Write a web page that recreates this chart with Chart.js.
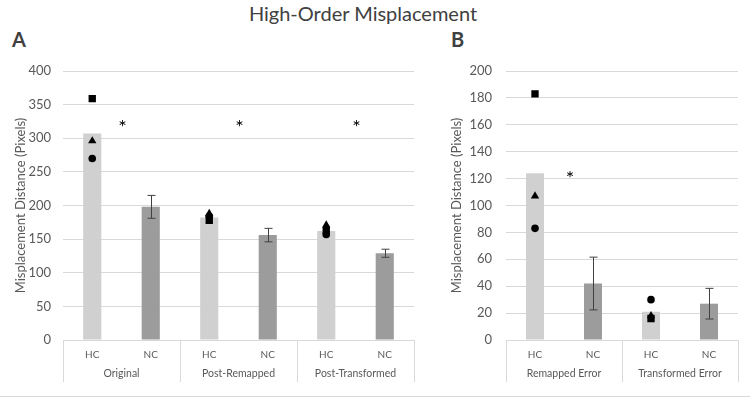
<!DOCTYPE html>
<html>
<head>
<meta charset="utf-8">
<script src="https://cdn.jsdelivr.net/npm/chart.js@4"></script>
<style>
  body { margin: 0; background: #fff; }
  #wrap { position: relative; width: 750px; height: 399px; overflow: hidden; font-family: Lato, 'Open Sans', sans-serif; }
  .titulo { position: absolute; top: 1px; left: 0; width: 726px; text-align: center; font-size: 20px; color: #404040; }
  .letra { position: absolute; font-weight: bold; font-size: 20px; color: #404040; }
  .caja { position: absolute; top: 0; height: 399px; }
  .linea-inferior { position: absolute; left: 0; width: 750px; top: 396px; height: 1px; background: #d9d9d9; }
</style>
</head>
<body>
<div id="wrap">
  <div class="titulo">High-Order Misplacement</div>
  <div class="letra" style="left:12px; top:27px;">A</div>
  <div class="letra" style="left:451px; top:27px;">B</div>
  <div class="caja" style="left:0; width:430px;"><canvas id="chartA" width="430" height="399"></canvas></div>
  <div class="caja" style="left:440px; width:310px;"><canvas id="chartB" width="310" height="399"></canvas></div>
  <div class="linea-inferior"></div>
</div>
<script>
// Datos panel A
const categoriasA = ['HC', 'NC', 'HC', 'NC', 'HC', 'NC'];
const gruposA = ['Original', 'Post-Remapped', 'Post-Transformed'];
const mediasA = [307, 198, 182, 156, 162, 129];
const erroresA = [null, 17, null, 10, null, 6];
const cuadradosA = [359, null, 178, null, 163, null];
const triangulosA = [296, null, 188, null, 171, null];
const circulosA = [270, null, 184, null, 157, null];
const asteriscosA = [323, 323, 323];
const ejeA = { max: 400, step: 50 };

// Datos panel B
const categoriasB = ['HC', 'NC', 'HC', 'NC'];
const gruposB = ['Remapped Error', 'Transformed Error'];
const mediasB = [124, 42, 21, 27];
const erroresB = [null, 19.6, null, 11.4];
const cuadradosB = [183, null, 16, null];
const triangulosB = [107, null, 18, null];
const circulosB = [83, null, 30, null];
const asteriscosB = [124, null];
const ejeB = { max: 200, step: 20 };

const colorHC = '#d0d0d0';
const colorNC = '#9c9c9c';
const colorTexto = '#595959';
const colorGrid = '#d9d9d9';
const fuente = "Lato, 'Open Sans', sans-serif";

// Plugin para barras de error, asteriscos y etiquetas de grupo
const extrasPlugin = {
    id: 'extras',
    afterDatasetsDraw(chart, args, opts) {
        const { ctx, scales: { x, y } } = chart;
        ctx.save();
        ctx.strokeStyle = '#404040';
        ctx.lineWidth = 1;
        opts.errores.forEach((e, i) => {
            if (e == null) return;
            const px = Math.round(x.getPixelForValue(i)) + 0.5;
            const top = y.getPixelForValue(opts.medias[i] + e);
            const bot = y.getPixelForValue(opts.medias[i] - e);
            ctx.beginPath();
            ctx.moveTo(px, top); ctx.lineTo(px, bot);
            ctx.moveTo(px - 4, top); ctx.lineTo(px + 4, top);
            ctx.moveTo(px - 4, bot); ctx.lineTo(px + 4, bot);
            ctx.stroke();
        });
        ctx.fillStyle = '#000';
        ctx.font = '20px ' + fuente;
        ctx.textAlign = 'center';
        ctx.textBaseline = 'middle';
        opts.asteriscos.forEach((v, g) => {
            if (v == null) return;
            const cx = (x.getPixelForValue(2 * g) + x.getPixelForValue(2 * g + 1)) / 2 + opts.desplAsterisco;
            ctx.fillText('*', cx, y.getPixelForValue(v) + 5);
        });
        ctx.restore();
    },
    afterDraw(chart, args, opts) {
        const { ctx, chartArea, scales: { x } } = chart;
        const n = opts.grupos.length;
        const bordes = [chartArea.left];
        for (let g = 1; g < n; g++) {
            bordes.push((x.getPixelForValue(2 * g - 1) + x.getPixelForValue(2 * g)) / 2);
        }
        bordes.push(chartArea.right);
        ctx.save();
        ctx.strokeStyle = colorGrid;
        ctx.lineWidth = 1;
        ctx.beginPath();
        bordes.forEach(bx => {
            const px = Math.round(bx) + 0.5;
            ctx.moveTo(px, chartArea.bottom);
            ctx.lineTo(px, chartArea.bottom + 42);
        });
        ctx.stroke();
        ctx.fillStyle = colorTexto;
        ctx.font = '10.5px ' + fuente;
        ctx.textAlign = 'center';
        ctx.textBaseline = 'middle';
        opts.grupos.forEach((nombre, g) => {
            ctx.fillText(nombre, (bordes[g] + bordes[g + 1]) / 2, chartArea.bottom + 34);
        });
        ctx.restore();
    }
};

function crearPanel(canvas, cfg) {
    const marcador = (datos, estilo, radio) => ({
        type: 'line',
        data: datos,
        showLine: false,
        pointStyle: estilo,
        pointRadius: radio,
        pointBackgroundColor: '#000',
        pointBorderColor: '#000',
        pointBorderWidth: 0
    });

    new Chart(canvas, {
        type: 'bar',
        data: {
            labels: cfg.categorias,
            datasets: [
                marcador(cfg.cuadrados, 'rect', 5.2),
                marcador(cfg.triangulos, 'triangle', 4.8),
                marcador(cfg.circulos, 'circle', 3.8),
                {
                    data: cfg.medias,
                    backgroundColor: cfg.categorias.map(c => c === 'HC' ? colorHC : colorNC),
                    borderWidth: 0,
                    categoryPercentage: 1,
                    barPercentage: 0.31
                }
            ]
        },
        options: {
            responsive: false,
            animation: false,
            layout: { padding: { top: 71, right: cfg.derecha, bottom: 0, left: 0 } },
            plugins: {
                legend: { display: false },
                tooltip: { enabled: false },
                extras: {
                    errores: cfg.errores,
                    medias: cfg.medias,
                    asteriscos: cfg.asteriscos,
                    grupos: cfg.grupos,
                    desplAsterisco: cfg.desplAsterisco
                }
            },
            scales: {
                x: {
                    grid: { display: false, drawTicks: false },
                    border: { color: colorGrid },
                    ticks: { color: colorTexto, font: { family: fuente, size: 10 }, padding: 9 },
                    afterFit: s => { s.height = 59; }
                },
                y: {
                    min: 0,
                    max: cfg.eje.max,
                    grid: { color: colorGrid, drawTicks: false },
                    border: { display: false },
                    ticks: { stepSize: cfg.eje.step, color: colorTexto, font: { family: fuente, size: 13 }, padding: cfg.padTicks },
                    title: {
                        display: true,
                        text: 'Misplacement Distance (Pixels)',
                        color: colorTexto,
                        font: { family: fuente, size: 13 },
                        padding: { top: cfg.padTitulo, bottom: 0 }
                    },
                    afterFit: s => { s.width = cfg.izquierda; }
                }
            }
        },
        plugins: [extrasPlugin]
    });
}

crearPanel(document.getElementById('chartA'), {
    categorias: categoriasA, grupos: gruposA, medias: mediasA, errores: erroresA,
    cuadrados: cuadradosA, triangulos: triangulosA, circulos: circulosA,
    asteriscos: asteriscosA, eje: ejeA,
    izquierda: 63, derecha: 16, padTicks: 12, padTitulo: 13, desplAsterisco: 1
});

crearPanel(document.getElementById('chartB'), {
    categorias: categoriasB, grupos: gruposB, medias: mediasB, errores: erroresB,
    cuadrados: cuadradosB, triangulosB: null, triangulos: triangulosB, circulos: circulosB,
    asteriscos: asteriscosB, eje: ejeB,
    izquierda: 66, derecha: 12, padTicks: 14, padTitulo: 9, desplAsterisco: 6
});
</script>
</body>
</html>
